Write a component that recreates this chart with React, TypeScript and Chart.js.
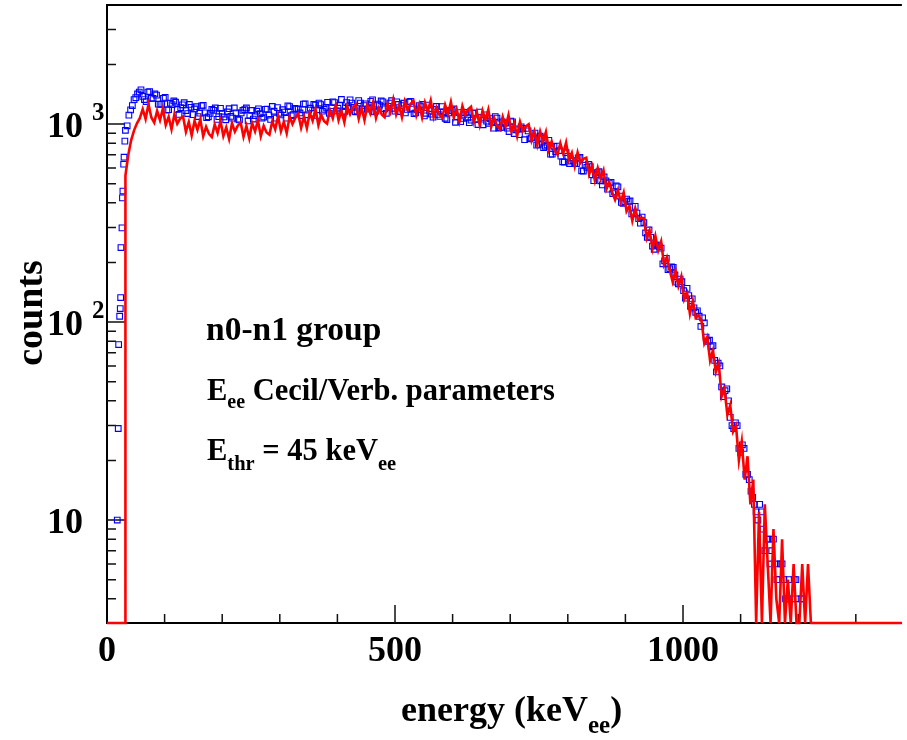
import React, { useEffect, useRef } from 'react';
import { Chart, registerables } from 'chart.js';

Chart.register(...registerables);

// ---------------- axis ranges & ticks ----------------
const X_MIN = 0;
const X_MAX = 1380;
const Y_MIN = 3.02;
const Y_MAX = 3990;

const X_MAJOR_TICKS = [0, 500, 1000];
const X_MINOR_TICKS = [100, 200, 300, 400, 600, 700, 800, 900, 1100, 1200, 1300];
const X_TICK_LABELS = ['0', '500', '1000'];

const Y_MAJOR_TICKS = [10, 100, 1000];
const Y_MINOR_TICKS = [4, 5, 6, 7, 8, 9, 20, 30, 40, 50, 60, 70, 80, 90, 200, 300, 400, 500, 600, 700, 800, 900, 2000, 3000];
const Y_TICK_BASES = ['10', '10', '10'];
const Y_TICK_EXPONENTS = ['', '2', '3'];

// ---------------- red histogram (simulation) ----------------
const RED_EDGE_E = [0, 32];
const RED_EDGE_COUNTS = [0, 0];
const RED_START_E = 32;
const RED_BIN_WIDTH = 5;
const RED_COUNTS = [
  550, 700, 830, 930, 1010, 1070, 1190, 1060, 1260, 1080,
  1019, 1166, 1046, 1199, 990, 1087, 941, 1118, 1005, 1066,
  1095, 915, 1024, 878, 1038, 936, 1056, 869, 969, 893,
  860, 996, 902, 1038, 870, 963, 842, 1010, 916, 982,
  1019, 863, 978, 848, 1011, 920, 1045, 869, 979, 907,
  883, 1034, 941, 1093, 921, 1025, 900, 1091, 1000, 1076,
  1123, 957, 1092, 954, 1140, 1038, 1188, 987, 1112, 1034,
  1006, 1177, 1070, 1243, 1046, 1164, 1022, 1231, 1122, 1208,
  1254, 1063, 1206, 1047, 1248, 1135, 1293, 1074, 1209, 1119,
  1083, 1267, 1150, 1332, 1118, 1240, 1085, 1301, 1181, 1265,
  1313, 1109, 1253, 1082, 1284, 1162, 1315, 1085, 1212, 1114,
  1077, 1249, 1125, 1294, 1079, 1190, 1033, 1233, 1113, 1187,
  1223, 1026, 1152, 990, 1168, 1051, 1183, 969, 1076, 982,
  942, 1087, 972, 1110, 921, 1007, 869, 1028, 921, 974,
  997, 828, 920, 785, 918, 819, 913, 742, 816, 738,
  701, 800, 710, 805, 660, 716, 612, 718, 637, 667,
  676, 557, 614, 518, 599, 529, 583, 469, 510, 453,
  415, 464, 405, 451, 363, 386, 325, 375, 327, 337,
  335, 265, 290, 235, 272, 230, 255, 195, 212, 183,
  160, 182, 152, 170, 130, 140, 110, 128, 105, 108,
  102, 78, 84, 64, 72, 56, 62, 42, 46, 34,
  38, 28, 30, 20, 25, 16, 21, 12, 16, 0,
  11, 0, 12, 6, 0, 9, 4, 0, 8, 0,
  5, 0, 6, 0, 0, 6, 0, 6,
];
const RED_TAIL_E = [1222, 1380];
const RED_TAIL_COUNTS = [0, 0];

// ---------------- blue data points ----------------
const BLUE_EDGE_E = [17.8, 19.5, 20.2, 22.0, 23.0, 23.7, 24.2, 26.0, 26.8, 27.6, 28.9, 29.6, 31.0];
const BLUE_EDGE_COUNTS = [10, 29, 77, 107, 117, 133, 238, 299, 424, 459, 627, 680, 820];
const BLUE_BIN_WIDTH = 6;
// even bins: 32, 38, 44 ... keV
const BLUE_START_E_A = 32;
const BLUE_COUNTS_A: (number | null)[] = [
  930, 1110, 1240, 1360, 1450, 1380, 1300, 1460, 1350, 1400,
  1258, 1349, 1176, 1275, 1309, 1185, 1210, 1282, 1130, 1215,
  1193, 1092, 1236, 1139, 1088, 1186, 1206, 1090, 1132, 1051,
  1196, 1072, 1139, 1049, 1173, 1207, 1105, 1060, 1162, 1128,
  1085, 1189, 1056, 1161, 1211, 1112, 1150, 1236, 1102, 1200,
  1193, 1105, 1265, 1176, 1134, 1248, 1277, 1162, 1215, 1133,
  1295, 1165, 1242, 1147, 1285, 1325, 1215, 1166, 1277, 1240,
  1190, 1302, 1151, 1261, 1308, 1195, 1230, 1313, 1163, 1257,
  1240, 1139, 1293, 1191, 1138, 1240, 1257, 1133, 1173, 1084,
  1227, 1093, 1153, 1054, 1169, 1193, 1083, 1029, 1118, 1075,
  1046, 1134, 995, 1081, 1113, 1009, 1030, 1091, 955, 1025,
  1010, 917, 1027, 936, 884, 952, 951, 843, 858, 783,
  869, 760, 784, 705, 772, 774, 689, 643, 687, 650,
  634, 675, 581, 620, 625, 555, 555, 575, 493, 517,
  504, 446, 487, 433, 398, 418, 409, 355, 355, 316,
  318, 268, 268, 233, 245, 236, 204, 184, 190, 173,
  156, 160, 132, 136, 131, 112, 107, 105, 84, 81,
  76, 56, 60, 42, 46, 33, 29, 30, 22, 23,
  17, 14, 12, 10, 11, 7, 8, 7, 6, 5,
  6, 4, 5, 4, 5, null, 4,
];
// odd bins: 35, 41, 47 ... keV
const BLUE_START_E_B = 35;
const BLUE_COUNTS_B: (number | null)[] = [
  980, 1180, 1330, 1420, 1490, 1330, 1450, 1350, 1420, 1260,
  1261, 1364, 1183, 1255, 1290, 1119, 1252, 1170, 1256, 1116,
  1224, 1135, 1244, 1079, 1132, 1173, 1056, 1201, 1086, 1152,
  1093, 1206, 1059, 1138, 1183, 1037, 1172, 1104, 1195, 1071,
  1188, 1111, 1228, 1072, 1133, 1182, 1071, 1226, 1116, 1191,
  1138, 1262, 1114, 1203, 1257, 1106, 1255, 1188, 1289, 1159,
  1285, 1203, 1331, 1161, 1225, 1276, 1153, 1314, 1190, 1265,
  1203, 1326, 1163, 1247, 1295, 1133, 1277, 1201, 1295, 1157,
  1275, 1186, 1301, 1128, 1183, 1225, 1100, 1247, 1122, 1185,
  1119, 1226, 1069, 1139, 1175, 1021, 1144, 1068, 1145, 1017,
  1139, 1054, 1150, 992, 1035, 1066, 953, 1073, 960, 1010,
  954, 1036, 896, 947, 968, 834, 924, 851, 901, 789,
  851, 772, 828, 705, 725, 734, 645, 717, 632, 654,
  631, 678, 579, 605, 610, 518, 568, 517, 541, 469,
  508, 455, 482, 402, 406, 406, 352, 384, 333, 339,
  282, 292, 242, 245, 240, 197, 210, 186, 189, 159,
  165, 144, 148, 120, 118, 114, 95, 99, 80, 75,
  64, 62, 47, 45, 40, 30, 31, 23, 24, 17,
  16, 13, 11, 12, 9, 8, 6, 8, 5, 6,
  5, 4, null, 5, 4, 4,
];

// ---------------- text ----------------
const FONT_FAMILY = '"Liberation Serif", "Times New Roman", serif';
const X_TITLE = ['energy (keV', 'ee', ')'];
const Y_TITLE = 'counts';
const NOTE_LINE1 = 'n0-n1 group';
const NOTE_LINE2 = ['E', 'ee', ' Cecil/Verb. parameters'];
const NOTE_LINE3 = ['E', 'thr', ' = 45 keV', 'ee'];

type Seg = { t: string; size: number; dy?: number };

function drawRich(ctx: CanvasRenderingContext2D, x: number, y: number, segs: Seg[]) {
  let cx = x;
  ctx.textAlign = 'left';
  ctx.textBaseline = 'alphabetic';
  for (const s of segs) {
    ctx.font = `bold ${s.size}px ${FONT_FAMILY}`;
    ctx.fillText(s.t, cx, y + (s.dy || 0));
    cx += ctx.measureText(s.t).width;
  }
}

const rootStylePlugin = {
  id: 'rootStyle',
  beforeDatasetsDraw(chart: any) {
    const { ctx, chartArea: a, scales } = chart;
    const xs = scales.x;
    const ys = scales.y;
    ctx.save();
    ctx.strokeStyle = '#000';
    ctx.lineWidth = 2;
    ctx.beginPath();
    ctx.moveTo(a.left, a.top);
    ctx.lineTo(a.right, a.top);
    ctx.moveTo(a.left, a.top - 1);
    ctx.lineTo(a.left, a.bottom + 1);
    ctx.moveTo(a.left - 1, a.bottom);
    ctx.lineTo(a.right, a.bottom);
    ctx.stroke();

    ctx.lineWidth = 1.5;
    ctx.strokeStyle = '#111';
    ctx.beginPath();
    const xTick = (v: number, len: number) => {
      const px = xs.getPixelForValue(v);
      ctx.moveTo(px, a.bottom);
      ctx.lineTo(px, a.bottom - len);
    };
    const yTick = (v: number, len: number) => {
      const py = ys.getPixelForValue(v);
      ctx.moveTo(a.left, py);
      ctx.lineTo(a.left + len, py);
    };
    X_MAJOR_TICKS.forEach((v) => v > X_MIN && xTick(v, 18));
    X_MINOR_TICKS.forEach((v) => xTick(v, 9));
    Y_MAJOR_TICKS.forEach((v) => yTick(v, 18));
    Y_MINOR_TICKS.forEach((v) => yTick(v, 9));
    ctx.stroke();
    ctx.restore();
  },
  afterDraw(chart: any) {
    const { ctx, scales } = chart;
    const xs = scales.x;
    const ys = scales.y;
    ctx.save();
    ctx.fillStyle = '#000';

    ctx.font = `bold 36px ${FONT_FAMILY}`;
    ctx.textAlign = 'center';
    ctx.textBaseline = 'alphabetic';
    X_MAJOR_TICKS.forEach((v, i) => {
      ctx.fillText(X_TICK_LABELS[i], xs.getPixelForValue(v), 661);
    });

    Y_MAJOR_TICKS.forEach((v, i) => {
      const py = ys.getPixelForValue(v);
      ctx.font = `bold 36px ${FONT_FAMILY}`;
      ctx.textAlign = 'right';
      ctx.fillText(Y_TICK_BASES[i], 83, py + 12.5);
      if (Y_TICK_EXPONENTS[i]) {
        ctx.font = `bold 25px ${FONT_FAMILY}`;
        ctx.textAlign = 'left';
        ctx.fillText(Y_TICK_EXPONENTS[i], 92, py - 4.5);
      }
    });

    drawRich(ctx, 401, 721, [
      { t: X_TITLE[0], size: 36 },
      { t: X_TITLE[1], size: 25, dy: 12 },
      { t: X_TITLE[2], size: 36 },
    ]);

    ctx.save();
    ctx.translate(42, 313);
    ctx.rotate(-Math.PI / 2);
    ctx.font = `bold 38px ${FONT_FAMILY}`;
    ctx.textAlign = 'center';
    ctx.textBaseline = 'alphabetic';
    ctx.fillText(Y_TITLE, 0, 0);
    ctx.restore();

    drawRich(ctx, 206, 340, [{ t: NOTE_LINE1, size: 33.5 }]);
    drawRich(ctx, 207, 400, [
      { t: NOTE_LINE2[0], size: 30.5 },
      { t: NOTE_LINE2[1], size: 20, dy: 8 },
      { t: NOTE_LINE2[2], size: 30.5 },
    ]);
    drawRich(ctx, 207, 460, [
      { t: NOTE_LINE3[0], size: 30.5 },
      { t: NOTE_LINE3[1], size: 20.5, dy: 10 },
      { t: NOTE_LINE3[2], size: 30.5 },
      { t: NOTE_LINE3[3], size: 20.5, dy: 10 },
    ]);
    ctx.restore();
  },
};

// empty histogram bins sit on the floor of the log axis, as in ROOT
const floorEmpty = (c: number | null) => (c === 0 ? Y_MIN : c);

function buildPoints(es: number[], counts: (number | null)[]) {
  return es.map((e, i) => ({ x: e, y: floorEmpty(counts[i]) }));
}
function buildBinned(start: number, width: number, counts: (number | null)[]) {
  return counts.map((c, i) => ({ x: start + i * width, y: floorEmpty(c) }));
}

export default function App() {
  const ref = useRef<HTMLCanvasElement | null>(null);

  useEffect(() => {
    if (!ref.current) return;
    const redData = [
      ...buildPoints(RED_EDGE_E, RED_EDGE_COUNTS),
      ...buildBinned(RED_START_E, RED_BIN_WIDTH, RED_COUNTS),
      ...buildPoints(RED_TAIL_E, RED_TAIL_COUNTS),
    ];
    const blueData = [
      ...buildPoints(BLUE_EDGE_E, BLUE_EDGE_COUNTS),
      ...buildBinned(BLUE_START_E_A, BLUE_BIN_WIDTH, BLUE_COUNTS_A),
      ...buildBinned(BLUE_START_E_B, BLUE_BIN_WIDTH, BLUE_COUNTS_B),
    ];
    const chart = new Chart(ref.current, {
      type: 'scatter',
      data: {
        datasets: [
          {
            label: 'simulation',
            data: redData as any,
            showLine: true,
            borderColor: '#ff0000',
            backgroundColor: '#ff0000',
            borderWidth: 2.6,
            pointRadius: 0,
            tension: 0,
            order: 0,
            clip: { left: 0, top: 0, right: 0, bottom: 3 } as any,
          },
          {
            label: 'data',
            data: blueData as any,
            showLine: false,
            pointStyle: 'rect',
            pointRadius: 4,
            pointBorderWidth: 1.1,
            pointBorderColor: '#0000ff',
            pointBackgroundColor: 'rgba(0,0,0,0)',
            borderColor: '#0000ff',
            backgroundColor: 'rgba(0,0,0,0)',
            order: 1,
          },
        ],
      },
      options: {
        animation: false,
        responsive: false,
        devicePixelRatio: 1,
        events: [],
        layout: { padding: { left: 107, top: 1, right: 0, bottom: 117 } },
        scales: {
          x: { type: 'linear', min: X_MIN, max: X_MAX, display: false },
          y: { type: 'logarithmic', min: Y_MIN, max: Y_MAX, display: false },
        },
        plugins: {
          legend: { display: false },
          tooltip: { enabled: false },
        },
      },
      plugins: [rootStylePlugin],
    });
    return () => chart.destroy();
  }, []);

  return (
    <div style={{ position: 'fixed', left: 0, top: 0, width: 907, height: 740, background: '#fff' }}>
      <canvas ref={ref} width={907} height={740} style={{ display: 'block', width: 907, height: 740 }} />
    </div>
  );
}
